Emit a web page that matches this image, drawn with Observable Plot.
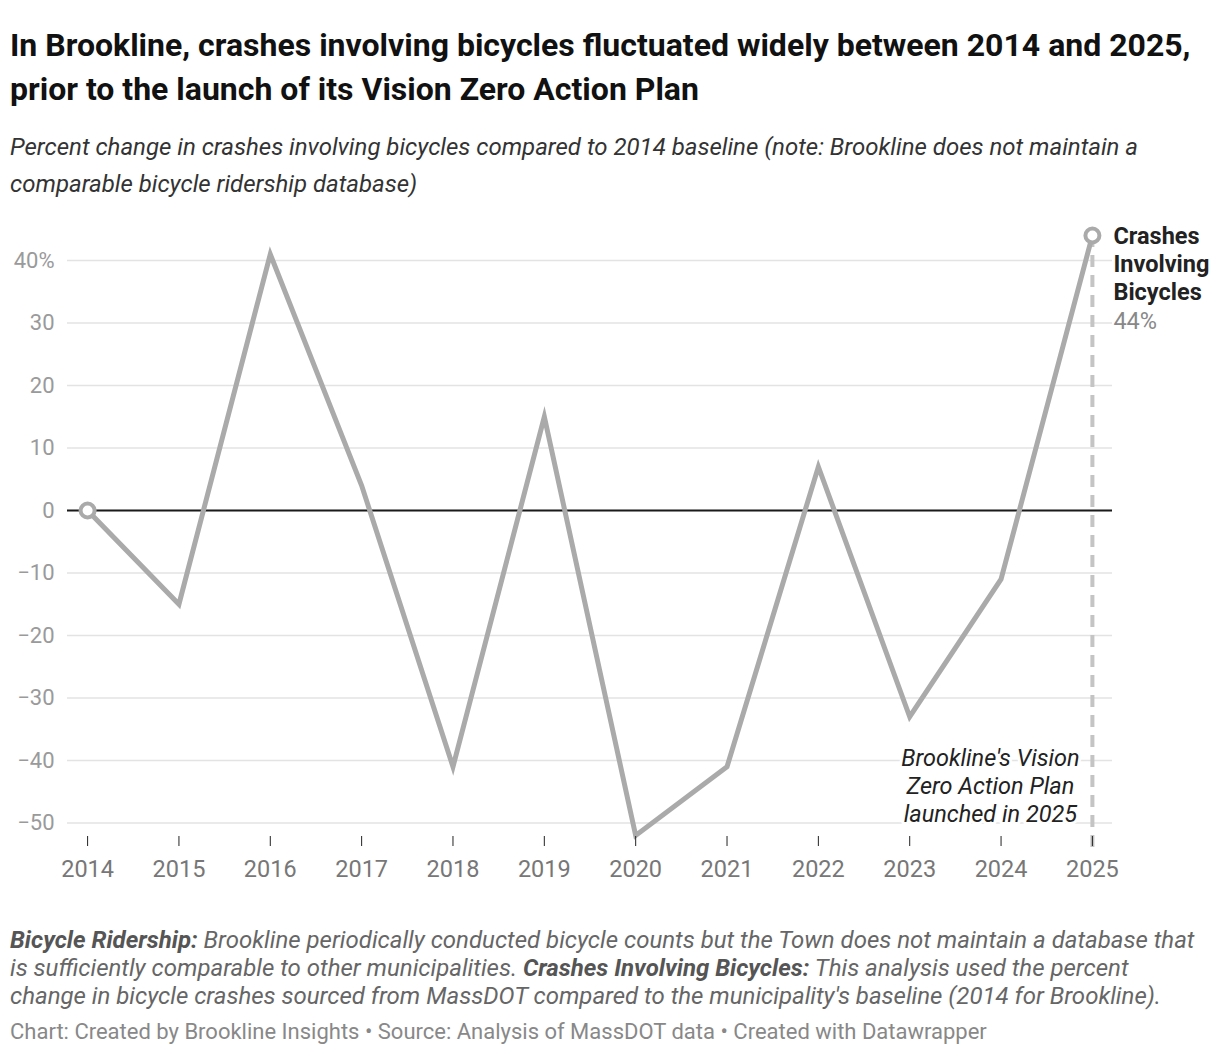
<!DOCTYPE html>
<html><head><meta charset="utf-8">
<script src="https://cdn.jsdelivr.net/npm/d3@7"></script>
<script src="https://cdn.jsdelivr.net/npm/@observablehq/plot@0.6"></script>
<style>
body{margin:0;background:#fff;font-family:Roboto,sans-serif;width:1220px;height:1056px;position:relative;overflow:hidden}
.abs{position:absolute;left:10px;white-space:nowrap}
#title{top:23px;font-size:32px;font-weight:700;line-height:44px;color:#111}
#subtitle{top:129px;font-size:24px;font-style:italic;line-height:37px;color:#333}
#chart{position:absolute;left:0;top:210px}
#notes{top:926px;font-size:24px;font-style:italic;line-height:28px;color:#666}
#notes b{font-weight:700;color:#555}
#credit{top:1018px;font-size:22px;line-height:28px;color:#888}
</style>
</head><body>
<div id="title" class="abs">In Brookline, crashes involving bicycles fluctuated widely between 2014 and 2025,<br>prior to the launch of its Vision Zero Action Plan</div>
<div id="subtitle" class="abs">Percent change in crashes involving bicycles compared to 2014 baseline (note: Brookline does not maintain a<br>comparable bicycle ridership database)</div>
<div id="chart"></div>
<div id="notes" class="abs"><b>Bicycle Ridership:</b> Brookline periodically conducted bicycle counts but the Town does not maintain a database that<br>is sufficiently comparable to other municipalities. <b>Crashes Involving Bicycles:</b> This analysis used the percent<br>change in bicycle crashes sourced from MassDOT compared to the municipality's baseline (2014 for Brookline).</div>
<div id="credit" class="abs">Chart: Created by Brookline Insights • Source: Analysis of MassDOT data • Created with Datawrapper</div>
<script>
const years = [2014, 2015, 2016, 2017, 2018, 2019, 2020, 2021, 2022, 2023, 2024, 2025];
const pctChange = [0, -15, 41, 4, -41, 15, -52, -41, 7, -33, -11, 44];
const yTicks = [-50, -40, -30, -20, -10, 0, 10, 20, 30, 40];
const seriesName = "Crashes\nInvolving\nBicycles";
const launchYear = [2025];
const launchNote = ["Brookline's Vision\nZero Action Plan\nlaunched in 2025"];

const data = years.map((y, i) => ({year: y, value: pctChange[i]}));
const ends = [data[0], data[data.length - 1]];
const last = data[data.length - 1];

const fmtY = d => d === 40 ? "40%" : (d < 0 ? "\u2212" + Math.abs(d) : String(d));

const chart = Plot.plot({
  width: 1220,
  height: 690,
  marginLeft: 67,
  marginRight: 108,
  marginTop: 50,
  marginBottom: 77.5,
  style: {fontFamily: "Roboto, sans-serif", background: "#fff", overflow: "visible"},
  x: {domain: [2014 - 0.22, 2025 + 0.22]},
  y: {domain: [-50, 40]},
  marks: [
    Plot.gridY(yTicks, {stroke: "#e3e3e3", strokeOpacity: 1, strokeWidth: 1.5}),
    Plot.axisY(yTicks, {tickSize: 0, tickPadding: 13, fontSize: 22, color: "#9a9a9a", tickFormat: fmtY, label: null}),
    Plot.ruleY([0], {stroke: "#1a1a1a", strokeWidth: 2}),
    Plot.ruleX(launchYear, {x: d => d, y1: 44, y2: -54, stroke: "#c4c4c4", strokeWidth: 4, strokeDasharray: "12,8"}),
    Plot.text(launchNote, {x: launchYear[0], y: -50, text: d => d, textAnchor: "middle", lineAnchor: "bottom", dx: -102, dy: -1, fontSize: 23.5, fontStyle: "italic", fill: "#222", stroke: "#fff", strokeWidth: 6, lineHeight: 1.19}),
    Plot.line(data, {x: "year", y: "value", stroke: "#aaaaaa", strokeWidth: 5, strokeLinejoin: "miter", strokeMiterlimit: 10, clip: false}),
    Plot.dot(ends, {x: "year", y: "value", r: 7, stroke: "#aaaaaa", strokeWidth: 4, fill: "#fff"}),
    Plot.text([last], {x: "year", y: "value", text: () => seriesName, textAnchor: "start", lineAnchor: "top", dx: 21, dy: -11, fontSize: 23.5, fontWeight: 700, fill: "#222", lineHeight: 1.19}),
    Plot.text([last], {x: "year", y: "value", text: d => d.value + "%", textAnchor: "start", lineAnchor: "middle", dx: 21, dy: 86, fontSize: 23.5, fill: "#888"}),
    Plot.axisX({ticks: years, tickFormat: d => String(d), tickSize: 10, tickPadding: 14, dy: 13.5, fontSize: 23.5, color: "#222", label: null})
  ]
});
chart.querySelectorAll("g[aria-label='x-axis tick label']").forEach(e => e.setAttribute("fill", "#777"));
document.getElementById("chart").appendChild(chart);
</script>
</body></html>
